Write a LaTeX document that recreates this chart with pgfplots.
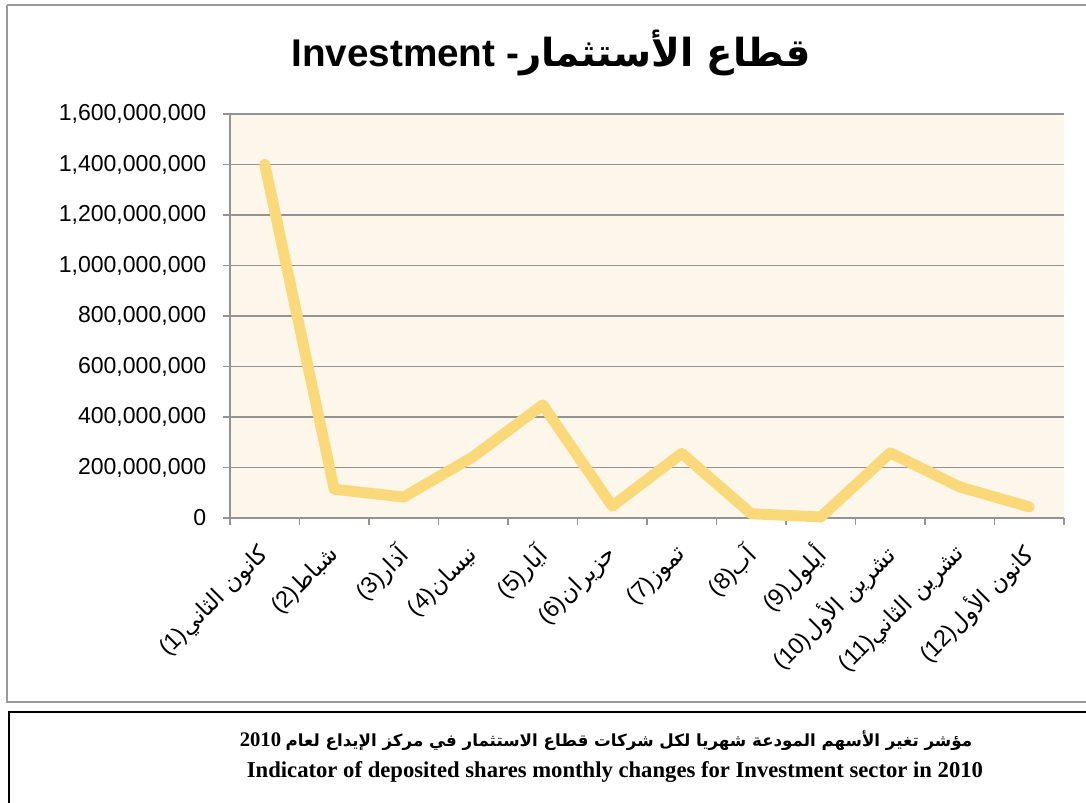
\documentclass[border=0pt]{standalone}
\usepackage{fontspec}
\usepackage{pgfplots}
\pgfplotsset{compat=1.18}
\setmainfont{Liberation Sans}
\newfontfamily\ar[Script=Arabic]{DejaVu Sans}
\newfontfamily\tnr{Liberation Serif}
\TeXXeTstate=1
\definecolor{linec}{HTML}{FAD97A}
\definecolor{cream}{HTML}{FDF6EA}
\definecolor{gridc}{HTML}{939393}
\definecolor{framec}{HTML}{9A9A9A}
\begin{document}
\begin{tikzpicture}[x=0.75pt,y=-0.75pt]
\path[use as bounding box] (0,0) rectangle (1086,803);
\fill[white] (0,0) rectangle (1086,803);
\draw[framec, line width=1.5pt] (7,5) -- (1100,5) (7,5) -- (7,702) -- (1100,702);
\draw[black, line width=1.6pt] (1100,712) -- (9,712) -- (9,810);
\coordinate (A) at (230,518);
\node at (551,53) {\fontsize{29}{36}\selectfont\bfseries Investment -{\ar\bfseries\beginR قطاع الأستثمار\endR}};
\node at (606,741) {\fontsize{12.5}{16}\selectfont\bfseries{\tnr\fontsize{15.5}{18}\selectfont 2010} {\ar\beginR مؤشر تغير الأسهم المودعة شهريا لكل شركات قطاع الاستثمار في مركز الإيداع لعام\endR}};
\node at (615,772) {\tnr\fontsize{17}{20}\selectfont\bfseries Indicator of deposited shares monthly changes for Investment sector in 2010};
\begin{axis}[
  at={(A)}, anchor=south west,
  width=625.5pt, height=303pt, scale only axis,
  xmin=0.5, xmax=12.5, ymin=0, ymax=1600000000,
  clip=false,
  axis lines*=left,
  axis line style={gridc, line width=1.3pt, -},
  axis background/.style={fill=cream},
  ymajorgrids, grid style={gridc, line width=1.3pt},
  ytick={0,200000000,400000000,600000000,800000000,1000000000,1200000000,1400000000,1600000000},
  yticklabels={{0},{200,000,000},{400,000,000},{600,000,000},{800,000,000},{1,000,000,000},{1,200,000,000},{1,400,000,000},{1,600,000,000}},
  scaled y ticks=false,
  yticklabel style={font=\fontsize{17.3}{19}\selectfont, xshift=-9pt},
  tick align=outside,
  major tick length=5.25pt,
  minor tick length=5pt,
  tick style={gridc, line width=1.2pt},
  xtick={1,...,12},
  minor xtick={0.5,1.5,...,12.5},
  major x tick style={draw=none},
  minor x tick style={gridc, line width=1.2pt},
  xticklabels={
    {(1)\ar\beginR كانون الثاني\endR},
    {(2)\ar\beginR شباط\endR},
    {(3)\ar\beginR آذار\endR},
    {(4)\ar\beginR نيسان\endR},
    {(5)\ar\beginR آيار\endR},
    {(6)\ar\beginR حزيران\endR},
    {(7)\ar\beginR تموز\endR},
    {(8)\ar\beginR آب\endR},
    {(9)\ar\beginR أيلول\endR},
    {(10)\ar\beginR تشرين الأول\endR},
    {(11)\ar\beginR تشرين الثاني\endR},
    {(12)\ar\beginR كانون الأول\endR}},
  xticklabel style={font=\fontsize{17.5}{20}\selectfont, xshift=3pt, yshift=-17pt, rotate=45, anchor=east},
]
\addplot[linec, line width=8.2pt, line join=round, line cap=round] coordinates {
(1,1401000000) (2,114000000) (3,83000000) (4,243000000) (5,448000000) (6,47000000)
(7,256000000) (8,17000000) (9,4000000) (10,258000000) (11,123000000) (12,44000000)};
\end{axis}
\end{tikzpicture}
\end{document}
